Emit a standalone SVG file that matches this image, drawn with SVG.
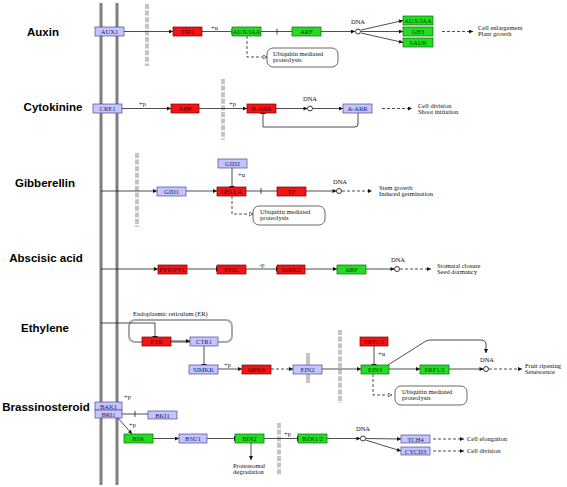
<svg xmlns="http://www.w3.org/2000/svg" width="567" height="487" viewBox="0 0 567 487">
<style>
.bg{fill:#fff}
.mem{stroke:#7f7f7f;stroke-width:3}
.bar{stroke:#c4c4c4;stroke-width:4;stroke-dasharray:5 1.6}
.sbar{stroke:#c4c4c4;stroke-width:4}
.ln{stroke:#222;stroke-width:0.8;fill:none}
.d{stroke-dasharray:3 2}
.r rect{fill:#f21414;stroke:#7a0000;stroke-width:0.7}
.g rect{fill:#22dd22;stroke:#0a6a0a;stroke-width:0.7}
.p rect{fill:#c4c4ff;stroke:#4a4a90;stroke-width:0.7}
.r text{fill:#5a0000}
.g text{fill:#054005}
.p text{fill:#20206a}
.bt{font-family:"Liberation Serif",serif;font-size:6.5px;text-anchor:middle}
.t{font-family:"Liberation Serif",serif;font-size:6.5px;fill:#111}
.tc{font-family:"Liberation Serif",serif;font-size:6.5px;fill:#111;text-anchor:middle}
.lab{font-family:"Liberation Sans",Arial,sans-serif;font-size:11.5px;font-weight:bold;fill:#000;text-anchor:middle}
.ub rect{fill:#fff;stroke:#444;stroke-width:0.8}
.dna{fill:#fff;stroke:#222;stroke-width:0.9}
.er{fill:none;stroke:#a8a8a8;stroke-width:2}
</style>
<defs>
<marker id="a" viewBox="0 0 10 10" refX="10" refY="5" markerWidth="5" markerHeight="4" markerUnits="userSpaceOnUse" orient="auto"><path d="M0,0L10,5L0,10z" fill="#111"/></marker>
<marker id="i" viewBox="0 0 2 10" refX="1" refY="5" markerWidth="1" markerHeight="6" markerUnits="userSpaceOnUse" orient="auto"><rect x="0" y="0" width="2" height="10" fill="#111"/></marker>
<marker id="o" viewBox="0 0 10 10" refX="9" refY="5" markerWidth="5" markerHeight="5" markerUnits="userSpaceOnUse" orient="auto"><path d="M1,1L9,5L1,9z" fill="#fff" stroke="#111" stroke-width="1.2"/></marker>
</defs>
<rect class="bg" x="0" y="0" width="567" height="487"/>

<g id="labels">
<text class="lab" x="43" y="36">Auxin</text>
<text class="lab" x="53" y="111">Cytokinine</text>
<text class="lab" x="45" y="187">Gibberellin</text>
<text class="lab" x="46" y="262">Abscisic acid</text>
<text class="lab" x="45" y="332">Ethylene</text>
<text class="lab" x="46" y="411">Brassinosteroid</text>
</g>

<g id="membrane">
<line class="mem" x1="101" y1="3" x2="101" y2="485"/>
<line class="mem" x1="117" y1="3" x2="117" y2="485"/>
</g>

<g id="barriers">
<line class="bar" x1="147" y1="4" x2="147" y2="66"/>
<line class="bar" x1="223" y1="79" x2="223" y2="140"/>
<line class="bar" x1="137" y1="153" x2="137" y2="227"/>
<line class="sbar" x1="308" y1="353" x2="308" y2="383"/>
<line class="bar" x1="340" y1="330" x2="340" y2="403"/>
<line class="bar" x1="279" y1="423" x2="279" y2="475"/>
<rect class="er" x="129" y="320" width="103" height="22" rx="6"/>
<text class="t" x="133" y="316">Endoplasmic reticulum (ER)</text>
</g>

<g id="connectors">
<!-- Auxin -->
<line class="ln" x1="124" y1="31.5" x2="173" y2="31.5" marker-end="url(#a)"/>
<line class="ln" x1="202" y1="31.5" x2="231" y2="31.5" marker-end="url(#i)"/>
<text class="t" x="211" y="30">+u</text>
<line class="ln" x1="261" y1="31.5" x2="292" y2="31.5"/>
<line class="ln" x1="277" y1="28.5" x2="277" y2="34.5" stroke-width="1"/>
<line class="ln" x1="321" y1="31.5" x2="355" y2="31.5" marker-end="url(#a)"/>
<line class="ln" x1="361" y1="30" x2="403" y2="20.5" marker-end="url(#a)"/>
<line class="ln" x1="361" y1="31.5" x2="403" y2="31.5" marker-end="url(#a)"/>
<line class="ln" x1="361" y1="33" x2="403" y2="42.5" marker-end="url(#a)"/>
<line class="ln d" x1="442" y1="31.5" x2="473" y2="31.5" marker-end="url(#a)"/>
<path class="ln d" d="M247,36V57H267" marker-end="url(#o)"/>
<!-- Cytokinine -->
<line class="ln" x1="122" y1="108.5" x2="171" y2="108.5" marker-end="url(#a)"/>
<text class="t" x="139" y="106">+p</text>
<line class="ln" x1="199" y1="108.5" x2="247" y2="108.5" marker-end="url(#a)"/>
<text class="t" x="229" y="106">+p</text>
<line class="ln" x1="276" y1="108.5" x2="307.5" y2="108.5" marker-end="url(#a)"/>
<line class="ln" x1="312.5" y1="108.5" x2="343" y2="108.5" marker-end="url(#a)"/>
<path class="ln" d="M358,113V124Q358,127 355,127H263V113.5" marker-end="url(#i)"/>
<line class="ln d" x1="382" y1="108.5" x2="412" y2="108.5" marker-end="url(#a)"/>
<!-- Gibberellin -->
<line class="ln" x1="101" y1="191" x2="157" y2="191" marker-end="url(#a)"/>
<line class="ln" x1="232" y1="168" x2="232" y2="186.5" marker-end="url(#i)"/>
<text class="t" x="238" y="177">+u</text>
<line class="ln" x1="186" y1="191" x2="217" y2="191" marker-end="url(#a)"/>
<line class="ln" x1="246" y1="191" x2="277" y2="191"/>
<line class="ln" x1="261" y1="188" x2="261" y2="194" stroke-width="1"/>
<line class="ln" x1="306" y1="191" x2="336.5" y2="191" marker-end="url(#a)"/>
<line class="ln d" x1="342" y1="191" x2="372" y2="191" marker-end="url(#a)"/>
<path class="ln d" d="M232,196V214H253" marker-end="url(#o)"/>
<!-- Abscisic acid -->
<line class="ln" x1="101" y1="269" x2="158" y2="269" marker-end="url(#a)"/>
<line class="ln" x1="187" y1="269" x2="216.5" y2="269" marker-end="url(#i)"/>
<line class="ln" x1="246" y1="269" x2="276.5" y2="269" marker-end="url(#i)"/>
<text class="t" x="259" y="267">-p</text>
<line class="ln" x1="305" y1="269" x2="337" y2="269" marker-end="url(#a)"/>
<line class="ln" x1="366" y1="269" x2="394.5" y2="269" marker-end="url(#a)"/>
<line class="ln d" x1="400" y1="269" x2="431" y2="269" marker-end="url(#a)"/>
<!-- Ethylene -->
<path class="ln" d="M101,323H155V336.5" marker-end="url(#i)"/>
<line class="ln" x1="171" y1="341" x2="190" y2="341" marker-end="url(#a)"/>
<line class="ln" x1="204" y1="346" x2="204" y2="364.5" marker-end="url(#i)"/>
<line class="ln" x1="218" y1="369" x2="242" y2="369" marker-end="url(#a)"/>
<text class="t" x="224" y="367">+p</text>
<line class="ln d" x1="271" y1="369" x2="293" y2="369" marker-end="url(#a)"/>
<line class="ln" x1="322" y1="369" x2="361" y2="369" marker-end="url(#a)"/>
<line class="ln" x1="374" y1="346" x2="374" y2="364.5" marker-end="url(#i)"/>
<text class="t" x="378" y="356">+u</text>
<line class="ln" x1="389" y1="369" x2="420" y2="369" marker-end="url(#a)"/>
<line class="ln" x1="449" y1="369" x2="483.5" y2="369" marker-end="url(#a)"/>
<path class="ln" d="M388,365L426,341Q428,340 431,340H481Q486,340 486,345V353" marker-end="url(#a)"/>
<line class="ln d" x1="489" y1="369" x2="522" y2="369" marker-end="url(#a)"/>
<path class="ln d" d="M373,374V395H392" marker-end="url(#o)"/>
<!-- Brassinosteroid -->
<line class="ln" x1="122" y1="414" x2="148" y2="414"/>
<line class="ln" x1="135" y1="411" x2="135" y2="417" stroke-width="1"/>
<text class="t" x="124" y="399">+p</text>
<line class="ln" x1="118" y1="418" x2="132" y2="434" marker-end="url(#a)"/>
<text class="t" x="129" y="427">+p</text>
<line class="ln" x1="153" y1="438.5" x2="179" y2="438.5" marker-end="url(#a)"/>
<line class="ln" x1="207" y1="438.5" x2="234.5" y2="438.5" marker-end="url(#i)"/>
<line class="ln" x1="251" y1="443" x2="251" y2="460" marker-end="url(#a)"/>
<line class="ln" x1="264" y1="438.5" x2="297.5" y2="438.5" marker-end="url(#i)"/>
<text class="t" x="284" y="436">+p</text>
<line class="ln" x1="327" y1="438.5" x2="360.5" y2="438.5" marker-end="url(#a)"/>
<line class="ln" x1="366" y1="438.5" x2="401" y2="439" marker-end="url(#a)"/>
<line class="ln" x1="365.5" y1="440" x2="401" y2="451" marker-end="url(#a)"/>
<line class="ln d" x1="433" y1="439" x2="464" y2="439" marker-end="url(#a)"/>
<line class="ln d" x1="433" y1="451" x2="464" y2="451" marker-end="url(#a)"/>
</g>

<g id="auxin-nodes">
<g id="AUX1" class="p"><rect x="95" y="27" width="29" height="9"/><text class="bt" x="109.5" y="34">AUX1</text></g>
<g id="TIR1" class="r"><rect x="173" y="27" width="29" height="9"/><text class="bt" x="187.5" y="34">TIR1</text></g>
<g id="AUXIAA" class="g"><rect x="232" y="27" width="29" height="9"/><text class="bt" x="246.5" y="34">AUX/IAA</text></g>
<g id="ARF" class="g"><rect x="292" y="27" width="29" height="9"/><text class="bt" x="306.5" y="34">ARF</text></g>
<g id="DNA1"><circle class="dna" cx="358" cy="31.5" r="2.5"/><text class="tc" x="358" y="24">DNA</text></g>
<g id="AUXIAA2" class="g"><rect x="403" y="16" width="30" height="9"/><text class="bt" x="418" y="23">AUX/IAA</text></g>
<g id="GH3" class="g"><rect x="403" y="27" width="30" height="9"/><text class="bt" x="418" y="34">GH3</text></g>
<g id="SAUR" class="g"><rect x="403" y="38" width="30" height="9"/><text class="bt" x="418" y="45">SAUR</text></g>
<g id="UB1" class="ub"><rect x="267" y="48" width="71" height="19" rx="6"/><text class="t" x="273" y="56">Ubiquitin mediated</text><text class="t" x="273" y="62">proteolysis</text></g>
<g id="OUT1"><text class="t" x="478" y="30">Cell enlargement</text><text class="t" x="478" y="36">Plant growth</text></g>
</g>

<g id="cytokinine-nodes">
<g id="CRE1" class="p"><rect x="93" y="104" width="29" height="9"/><text class="bt" x="107.5" y="111">CRE1</text></g>
<g id="AHP" class="r"><rect x="171" y="104" width="28" height="9"/><text class="bt" x="185" y="111">AHP</text></g>
<g id="BARR" class="r"><rect x="247" y="104" width="29" height="9"/><text class="bt" x="261.5" y="111">B-ARR</text></g>
<g id="DNA2"><circle class="dna" cx="310" cy="108.5" r="2.5"/><text class="tc" x="310" y="101">DNA</text></g>
<g id="AARR" class="p"><rect x="343" y="104" width="29" height="9"/><text class="bt" x="357.5" y="111">A-ARR</text></g>
<g id="OUT2"><text class="t" x="418" y="108">Cell division</text><text class="t" x="418" y="114">Shoot initiation</text></g>
</g>

<g id="gibberellin-nodes">
<g id="GID1" class="p"><rect x="157" y="187" width="29" height="9"/><text class="bt" x="171.5" y="194">GID1</text></g>
<g id="GID2" class="p"><rect x="218" y="159" width="29" height="9"/><text class="bt" x="232.5" y="166">GID2</text></g>
<g id="DELLA" class="r"><rect x="217" y="187" width="29" height="9"/><text class="bt" x="231.5" y="194">DELLA</text></g>
<g id="TP" class="r"><rect x="277" y="187" width="29" height="9"/><text class="bt" x="291.5" y="194">TF</text></g>
<g id="DNA3"><circle class="dna" cx="339" cy="191" r="2.5"/><text class="tc" x="340" y="184">DNA</text></g>
<g id="UB2" class="ub"><rect x="253" y="206" width="72" height="19" rx="6"/><text class="t" x="260" y="214">Ubiquitin mediated</text><text class="t" x="260" y="220">proteolysis</text></g>
<g id="OUT3"><text class="t" x="379" y="190">Stem growth</text><text class="t" x="379" y="196">Induced germination</text></g>
</g>

<g id="aba-nodes">
<g id="PYR" class="r"><rect x="158" y="265" width="29" height="9"/><text class="bt" x="172.5" y="272">PYR/PYL</text></g>
<g id="PP2C" class="r"><rect x="217" y="265" width="29" height="9"/><text class="bt" x="231.5" y="272">PP2C</text></g>
<g id="SnRK2" class="r"><rect x="277" y="265" width="28" height="9"/><text class="bt" x="291" y="272">SnRK2</text></g>
<g id="ABF" class="g"><rect x="337" y="265" width="29" height="9"/><text class="bt" x="351.5" y="272">ABF</text></g>
<g id="DNA4"><circle class="dna" cx="397" cy="269" r="2.5"/><text class="tc" x="398" y="262">DNA</text></g>
<g id="OUT4"><text class="t" x="437" y="268">Stomatal closure</text><text class="t" x="437" y="274">Seed dormancy</text></g>
</g>

<g id="ethylene-nodes">
<g id="ETR" class="r"><rect x="142" y="337" width="29" height="9"/><text class="bt" x="156.5" y="344">ETR</text></g>
<g id="CTR1" class="p"><rect x="190" y="337" width="28" height="9"/><text class="bt" x="204" y="344">CTR1</text></g>
<g id="SIMKK" class="p"><rect x="189" y="365" width="29" height="9"/><text class="bt" x="203.5" y="372">SIMKK</text></g>
<g id="MPK6" class="r"><rect x="242" y="365" width="29" height="9"/><text class="bt" x="256.5" y="372">MPK6</text></g>
<g id="EIN2" class="p"><rect x="293" y="365" width="29" height="9"/><text class="bt" x="307.5" y="372">EIN2</text></g>
<g id="ERF12r" class="r"><rect x="360" y="337" width="28" height="9"/><text class="bt" x="374" y="344">ERF1/2</text></g>
<g id="EIN3" class="g"><rect x="361" y="365" width="28" height="9"/><text class="bt" x="375" y="372">EIN3</text></g>
<g id="ERF12g" class="g"><rect x="420" y="365" width="29" height="9"/><text class="bt" x="434.5" y="372">ERF1/2</text></g>
<g id="DNA5"><circle class="dna" cx="486" cy="369" r="2.5"/><text class="tc" x="487" y="362">DNA</text></g>
<g id="UB3" class="ub"><rect x="395" y="386" width="72" height="19" rx="6"/><text class="t" x="402" y="394">Ubiquitin mediated</text><text class="t" x="402" y="400">proteolysis</text></g>
<g id="OUT5"><text class="t" x="525" y="368">Fruit ripening</text><text class="t" x="525" y="374">Senescence</text></g>
</g>

<g id="brassino-nodes">
<g id="BAK1" class="p"><rect x="95" y="402" width="27" height="8"/><text class="bt" x="108.5" y="408.5">BAK1</text></g>
<g id="BRI1" class="p"><rect x="95" y="410" width="27" height="8"/><text class="bt" x="108.5" y="416.5">BRI1</text></g>
<g id="BKI1" class="p"><rect x="148" y="411" width="29" height="8"/><text class="bt" x="162.5" y="417.5">BKI1</text></g>
<g id="BSK" class="g"><rect x="124" y="434" width="29" height="9"/><text class="bt" x="138.5" y="441">BSK</text></g>
<g id="BSU1" class="p"><rect x="179" y="434" width="28" height="9"/><text class="bt" x="193" y="441">BSU1</text></g>
<g id="BIN2" class="g"><rect x="235" y="434" width="29" height="9"/><text class="bt" x="249.5" y="441">BIN2</text></g>
<g id="BZR12" class="g"><rect x="298" y="434" width="29" height="9"/><text class="bt" x="312.5" y="441">BZR1/2</text></g>
<g id="DNA6"><circle class="dna" cx="363" cy="438.5" r="2.5"/><text class="tc" x="363" y="431">DNA</text></g>
<g id="TCH4" class="p"><rect x="401" y="435" width="29" height="8"/><text class="bt" x="415.5" y="441.5">TCH4</text></g>
<g id="CYCD3" class="p"><rect x="401" y="447" width="29" height="8"/><text class="bt" x="415.5" y="453.5">CYCD3</text></g>
<g id="PROT"><text class="t" x="233" y="468">Proteasomal</text><text class="t" x="233" y="474">degradation</text></g>
<g id="OUT6"><text class="t" x="467" y="441">Cell elongation</text><text class="t" x="467" y="453">Cell division</text></g>
</g>
</svg>
